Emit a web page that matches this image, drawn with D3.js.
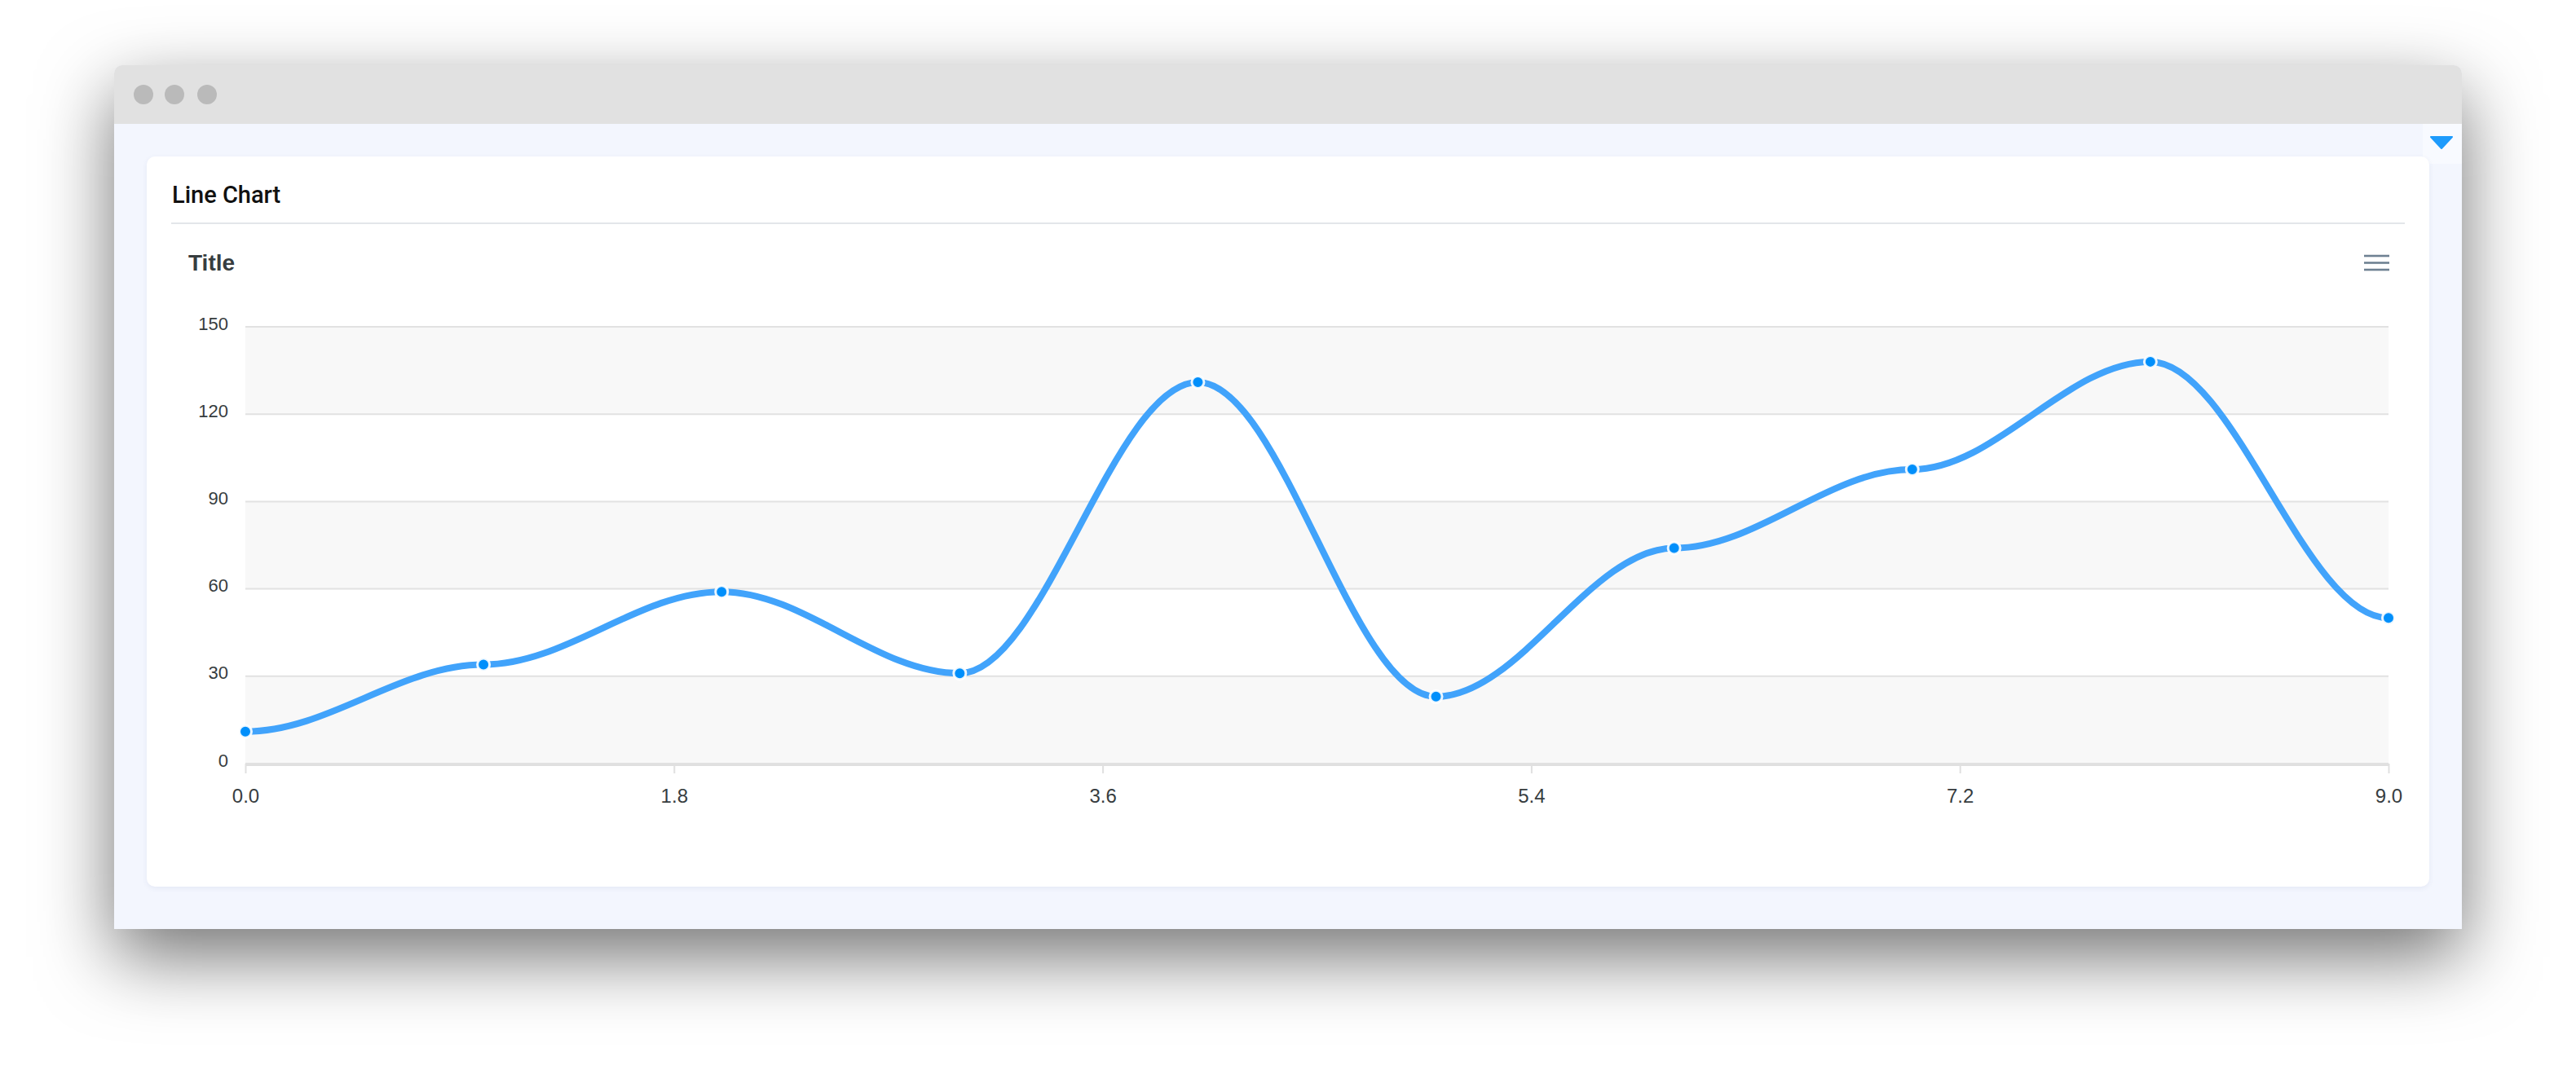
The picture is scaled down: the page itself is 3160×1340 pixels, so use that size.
<!DOCTYPE html>
<html>
<head>
<meta charset="utf-8">
<script src="https://cdn.jsdelivr.net/npm/d3@7"></script>
<style>
  html, body { margin: 0; padding: 0; background: #ffffff; width: 3160px; height: 1340px; overflow: hidden; }
  #win { position: absolute; left: 140px; top: 80px; width: 2880px; height: 1060px; background: #f3f6fe;
         border-radius: 10px 10px 0 0; box-shadow: 0 34px 90px rgba(0,0,0,0.55); }
  #bar { position: absolute; left: 0; top: 0; width: 2880px; height: 72px; background: #e1e1e1; border-radius: 10px 10px 0 0; }
  .dot { position: absolute; top: 24px; width: 24px; height: 24px; border-radius: 50%; background: #bababa; }
  #tab { position: absolute; left: 2832px; top: 72px; width: 48px; height: 49px; background: #f8faff; border-radius: 0 0 0 10px; }
  #card { position: absolute; left: 40px; top: 112px; width: 2800px; height: 896px; background: #ffffff; border-radius: 10px;
          box-shadow: 0 2px 6px rgba(60,80,140,0.08); }
  svg#chart { position: absolute; left: 0; top: 0; }
</style>
</head>
<body>
<div id="win">
  <div id="bar">
    <div class="dot" style="left:24px"></div>
    <div class="dot" style="left:62px"></div>
    <div class="dot" style="left:102px"></div>
  </div>
  <div id="tab"></div>
  <div id="card"></div>
</div>
<svg id="chart" width="3160" height="1340"></svg>
<script>
// ---- data ----
const xValues = [0, 1, 2, 3, 4, 5, 6, 7, 8, 9];
const yValues = [11, 34, 59, 31, 131, 23, 74, 101, 138, 50];
const yTicks = [0, 30, 60, 90, 120, 150];
const xTicks = [0, 1.8, 3.6, 5.4, 7.2, 9.0];
const cardTitle = "Line Chart";
const chartTitle = "Title";

// ---- layout ----
const plot = { left: 301, right: 2930, top: 401, bottom: 937 };
const svg = d3.select("#chart");

const x = d3.scaleLinear().domain([0, 9]).range([plot.left, plot.right]);
const y = d3.scaleLinear().domain([0, 150]).range([plot.bottom, plot.top]);

// dropdown triangle
svg.append("path")
  .attr("d", "M2982,168 L3008,168 L2995,182 Z")
  .attr("fill", "#1e9bfc")
  .attr("stroke", "#1e9bfc").attr("stroke-width", 2).attr("stroke-linejoin", "round");

// card header
svg.append("text").attr("x", 211).attr("y", 249)
  .attr("font-family", "Roboto, 'Noto Sans', sans-serif").attr("font-weight", 500)
  .attr("font-size", 29).attr("fill", "#111").text(cardTitle);
svg.append("line").attr("x1", 210).attr("x2", 2950).attr("y1", 274).attr("y2", 274)
  .attr("stroke", "#e3e6ea").attr("stroke-width", 2);

// chart title
svg.append("text").attr("x", 231).attr("y", 332)
  .attr("font-family", "'Liberation Sans', Arial, Helvetica, sans-serif").attr("font-weight", 700)
  .attr("font-size", 28).attr("fill", "#373d3f").text(chartTitle);

// menu icon
const menuG = svg.append("g");
[314, 322.5, 331].forEach(yy => {
  menuG.append("line").attr("x1", 2900).attr("x2", 2931).attr("y1", yy).attr("y2", yy)
    .attr("stroke", "#6e8192").attr("stroke-width", 2.6);
});

// bands
const bandG = svg.append("g");
for (let i = 0; i < yTicks.length - 1; i++) {
  if (i % 2 === 0) {
    bandG.append("rect")
      .attr("x", plot.left).attr("width", plot.right - plot.left)
      .attr("y", y(yTicks[i + 1])).attr("height", y(yTicks[i]) - y(yTicks[i + 1]))
      .attr("fill", "#f8f8f8");
  }
}

// grid lines
svg.append("g").selectAll("line").data(yTicks).join("line")
  .attr("x1", plot.left).attr("x2", plot.right)
  .attr("y1", d => y(d)).attr("y2", d => y(d))
  .attr("stroke", "#e2e2e2").attr("stroke-width", 2);

// y axis
const yAxis = svg.append("g").attr("transform", `translate(${plot.left - 21},0)`)
  .call(d3.axisLeft(y).tickValues(yTicks).tickSize(0).tickPadding(0).tickFormat(d3.format("d")));
yAxis.select(".domain").remove();
yAxis.selectAll("text")
  .attr("font-family", "'Liberation Sans', Arial, Helvetica, sans-serif")
  .attr("font-size", 22).attr("fill", "#373d3f").attr("dy", "0").attr("y", 3);

// x axis
const xAxis = svg.append("g").attr("transform", `translate(0,${plot.bottom})`)
  .call(d3.axisBottom(x).tickValues(xTicks).tickSize(12).tickPadding(0).tickFormat(d3.format(".1f")));
xAxis.select(".domain").attr("stroke", "#e0e0e0").attr("stroke-width", 3).attr("d", `M${plot.left},1.5H${plot.right}`);
xAxis.selectAll(".tick line").attr("stroke", "#e0e0e0").attr("stroke-width", 2);
xAxis.selectAll("text")
  .attr("font-family", "'Liberation Sans', Arial, Helvetica, sans-serif")
  .attr("font-size", 24).attr("fill", "#373d3f").attr("dy", "0").attr("y", 48);

// ApexCharts-like smooth curve (horizontal tangents at each point)
function apexSmooth(context) {
  return {
    lineStart() { this._p = 0; },
    lineEnd() {},
    areaStart() {}, areaEnd() {},
    point(px, py) {
      px = +px; py = +py;
      if (this._p === 0) { context.moveTo(px, py); this._p = 1; }
      else {
        const l = (px - this._x0) * 0.35;
        context.bezierCurveTo(this._x0 + l, this._y0, px - l, py, px, py);
      }
      this._x0 = px; this._y0 = py;
    }
  };
}

const data = xValues.map((v, i) => ({ x: v, y: yValues[i] }));
const line = d3.line().x(d => x(d.x)).y(d => y(d.y)).curve(apexSmooth);

svg.append("path").datum(data)
  .attr("d", line)
  .attr("fill", "none")
  .attr("stroke", "#41a3fb")
  .attr("stroke-width", 8)
  .attr("stroke-linecap", "butt");

svg.append("g").selectAll("circle").data(data).join("circle")
  .attr("cx", d => x(d.x)).attr("cy", d => y(d.y))
  .attr("r", 7.5)
  .attr("fill", "#008ffb")
  .attr("stroke", "#ffffff").attr("stroke-opacity", 0.9).attr("stroke-width", 3);
</script>
</body>
</html>
